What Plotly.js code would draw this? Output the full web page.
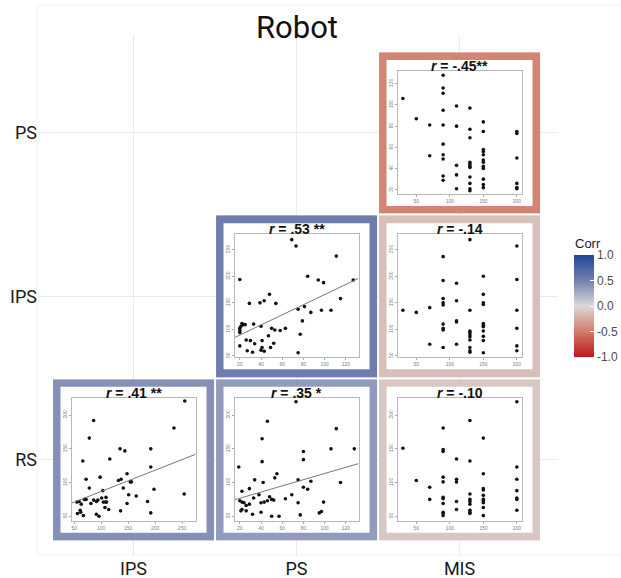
<!DOCTYPE html>
<html><head><meta charset="utf-8">
<script src="https://cdn.plot.ly/plotly-3.0.1.min.js"></script>
<style>html,body{margin:0;padding:0;background:#fff}</style>
</head><body><div id="chart" style="width:621px;height:578px"></div>
<script>
// ---- categories ----
const colVars = ['IPS', 'PS', 'MIS'];
const rowVars = ['RS', 'IPS', 'PS'];
// ---- correlations (rows RS, IPS, PS; columns IPS, PS, MIS) ----
const corrRS  = [0.41, 0.35, -0.10];
const corrIPS = [null, 0.53, -0.14];
const corrPS  = [null, null, -0.45];
// ---- correlation labels ----
const labPS_MIS  = '<b><i>r</i> = -.45**</b>';
const labIPS_PS  = '<b><i>r</i> = .53 **</b>';
const labIPS_MIS = '<b><i>r</i> = -.14</b>';
const labRS_IPS  = '<b><i>r</i> = .41 **</b>';
const labRS_PS   = '<b><i>r</i> = .35 *</b>';
const labRS_MIS  = '<b><i>r</i> = -.10</b>';
// ---- colorbar ticks ----
const cbTicks = [-1, -0.5, 0, 0.5, 1];
const cbTickText = ['-1.0', '-0.5', '0.0', '0.5', '1.0'];
// ---- scatter tick values ----
const misTicks = [50, 100, 150, 200];
const psTicks = [20, 40, 60, 80, 100, 120];
const ipsTicks = [50, 100, 150, 200, 250];
const rsTicks = [50, 100, 150, 200];
// ---- scatter data ----
// PS (y) vs MIS (x)
const misA = [30,50,70,70,90,90,90,90,90,90,90,90,90,90,110,110,110,110,110,130,130,130,130,130,130,130,130,130,130,130,150,150,150,150,150,150,150,150,150,150,150,150,200,200,200,200,200,200];
const psA  = [106,87,81,52,128,116,111,95,81,63,53,49,33,29,99,80,43,34,21,97,77,69,46,44,42,41,32,26,21,19,84,75,58,56,53,48,46,42,40,30,25,22,75,73,50,26,22,21];
// IPS (y) vs MIS (x)
const misB = [30,50,70,70,90,90,90,90,90,90,90,90,90,110,110,110,110,110,130,130,130,130,130,130,130,130,130,130,150,150,150,150,150,150,150,150,150,150,150,200,200,200,200,200,200];
const ipsB = [136,132,141,72,237,192,158,150,146,110,102,99,66,187,154,116,114,72,269,136,97,94,90,86,80,66,60,57,200,166,150,147,111,108,105,97,87,79,56,257,194,136,102,69,60];
// RS (y) vs MIS (x)
const misC = [30,50,70,70,90,90,90,90,90,90,90,90,90,90,90,110,110,110,110,110,130,130,130,130,130,130,130,130,130,150,150,150,150,150,150,150,150,150,150,200,200,200,200,200,200,200];
const rsC  = [151,103,93,75,181,149,146,108,101,78,76,69,56,54,51,135,105,101,72,60,192,132,83,75,72,68,59,56,54,166,113,91,89,81,75,73,70,63,51,220,123,105,88,77,75,59];
// IPS (y) vs PS (x)
const psD  = [69,73,111,20,84,94,99,127,48,29,39,43,54,115,75,81,87,97,106,79,22,23,25,21,20,20,20,33,40,50,53,58,63,77,47,41,26,30,34,52,49,41,20,40,43,27,32,75];
const ipsD = [269,257,238,194,200,193,188,193,166,149,150,154,149,158,138,143,132,136,136,116,111,109,109,106,102,98,94,110,106,102,99,98,102,91,88,79,80,79,73,74,66,66,69,61,59,60,57,56];
// RS (y) vs PS (x)
const psE  = [73,46,111,41,106,128,80,41,80,19,55,53,34,75,42,87,115,80,84,29,22,38,69,33,48,50,46,52,63,20,22,24,26,29,40,43,75,99,22,21,26,32,40,50,57,77,95,97];
const rsE  = [220,191,180,165,150,150,146,131,134,123,113,107,104,104,100,102,100,93,90,91,87,82,82,77,79,75,73,74,76,73,71,70,66,68,70,71,70,71,60,58,58,53,56,50,50,52,55,57];
// RS (y) vs IPS (x)
const ipsF = [255,235,86,78,135,144,192,66,116,192,148,72,98,137,132,154,156,78,141,198,103,151,165,254,55,59,69,72,86,94,101,109,91,104,108,110,63,81,107,114,148,186,61,62,56,67,91,96,136,192];
const rsF  = [221,181,192,166,150,147,150,132,135,123,113,105,108,105,103,101,101,92,92,90,88,82,80,83,71,72,75,75,74,74,77,78,72,71,71,71,68,69,63,60,69,72,59,56,54,51,53,50,58,55];

// ---- geometry ----
const W = 621, H = 578, L = 38, R = 63, T = 35, B = 22;
const pw = W - L - R, ph = H - T - B;
const xR = [-0.586, 2.604], yR = [-0.59, 2.6];
const cxOf = c => L + (colVars.indexOf(c) - xR[0]) / (xR[1] - xR[0]) * pw;
const cyOf = r => T + (yR[1] - rowVars.indexOf(r)) / (yR[1] - yR[0]) * ph;
const fx = p => (p - L) / pw;
const fy = p => (H - B - p) / ph;

const MISR = [22, 207], PSXR = [15, 132], IPSXR = [45, 275];
const PSYR = [16, 132], IPSYR = [47.5, 279], RSYR = [43.5, 226];

const panels = [
  {row:'PS',  col:'MIS', x:misA, y:psA,  lab:labPS_MIS,  fit:false, xr:MISR,  yr:PSYR,  xt:misTicks, yt:psTicks},
  {row:'IPS', col:'PS',  x:psD,  y:ipsD, lab:labIPS_PS,  fit:true,  xr:PSXR,  yr:IPSYR, xt:psTicks,  yt:ipsTicks},
  {row:'IPS', col:'MIS', x:misB, y:ipsB, lab:labIPS_MIS, fit:false, xr:MISR,  yr:IPSYR, xt:misTicks, yt:ipsTicks},
  {row:'RS',  col:'IPS', x:ipsF, y:rsF,  lab:labRS_IPS,  fit:true,  xr:IPSXR, yr:RSYR,  xt:ipsTicks, yt:rsTicks},
  {row:'RS',  col:'PS',  x:psE,  y:rsE,  lab:labRS_PS,   fit:true,  xr:PSXR,  yr:RSYR,  xt:psTicks,  yt:rsTicks},
  {row:'RS',  col:'MIS', x:misC, y:rsC,  lab:labRS_MIS,  fit:false, xr:MISR,  yr:RSYR,  xt:misTicks, yt:rsTicks}
];

function ols(xs, ys) {
  const n = xs.length;
  const mx = xs.reduce((a,b)=>a+b,0)/n, my = ys.reduce((a,b)=>a+b,0)/n;
  let sxy = 0, sxx = 0;
  for (let i = 0; i < n; i++) { sxy += (xs[i]-mx)*(ys[i]-my); sxx += (xs[i]-mx)*(xs[i]-mx); }
  const b = sxy / sxx; return [my - b*mx, b];
}

const colorscale = [
  [0, 'rgb(185,24,28)'],
  [0.25, 'rgb(214,124,104)'],
  [0.275, 'rgb(212,132,114)'],
  [0.5, 'rgb(218,218,218)'],
  [0.75, 'rgb(115,128,175)'],
  [1, 'rgb(30,70,150)']
];

const data = [
  {
    type:'heatmap', x: colVars, y: rowVars, z: [corrRS, corrIPS, corrPS],
    zmin:-1, zmax:1, colorscale: colorscale, xgap:2, ygap:2, hoverinfo:'skip',
    colorbar: {
      x: fx(574), xanchor:'left', y: fy(306), yanchor:'middle',
      len:102, lenmode:'pixels', thickness:20, thicknessmode:'pixels',
      xpad:0, ypad:0, outlinewidth:0,
      tickvals: cbTicks, ticktext: cbTickText,
      ticks:'inside', ticklen:4, tickcolor:'white', tickwidth:1,
      tickfont:{family:'Liberation Sans, Arial, sans-serif', size:12, color:'#4d4d4d'}
    }
  },
  {
    type:'scatter', mode:'markers', x: panels.map(p=>p.col), y: panels.map(p=>p.row),
    marker:{symbol:'square', size:146, color:'white', line:{width:0}},
    cliponaxis:false, hoverinfo:'skip', showlegend:false
  }
];

const layout = {
  width: W, height: H,
  margin: {l:L, r:R, t:T, b:B, pad:0, autoexpand:false},
  paper_bgcolor:'white', plot_bgcolor:'rgba(0,0,0,0)',
  showlegend:false, hovermode:false,
  title: {text:'Robot', x:fx(297), xref:'paper', xanchor:'center', y:1-27/H, yref:'container', yanchor:'middle',
          font:{family:'Roboto, sans-serif', size:31, color:'#111'}},
  xaxis: {type:'category', categoryorder:'array', categoryarray:colVars, range:xR,
          showgrid:true, gridcolor:'#ebebeb', gridwidth:1, zeroline:false, showline:false, ticks:'',
          tickfont:{family:'Roboto, sans-serif', size:18, color:'#1a1a1a'}, fixedrange:true},
  yaxis: {type:'category', categoryorder:'array', categoryarray:rowVars, range:yR,
          showgrid:true, gridcolor:'#ebebeb', gridwidth:1, zeroline:false, showline:false, ticks:'',
          tickfont:{family:'Roboto, sans-serif', size:18, color:'#1a1a1a'}, fixedrange:true},
  shapes: [
    {type:'rect', xref:'paper', yref:'paper', x0:fx(37), x1:fx(640), y0:fy(555), y1:fy(5),
     line:{color:'#f2f2f2', width:1}, layer:'below'}
  ],
  annotations: [
    {text:'Corr', xref:'paper', yref:'paper', x:fx(573), y:fy(243), xanchor:'left', yanchor:'middle',
     showarrow:false, font:{family:'Liberation Sans, Arial, sans-serif', size:13, color:'#1a1a1a'}}
  ]
};

panels.forEach((p, k) => {
  const id = k + 2;
  const cx = cxOf(p.col), cy = cyOf(p.row);
  layout['xaxis' + id] = {
    domain:[fx(cx - 62), fx(cx + 62)], anchor:'y' + id, range:p.xr,
    showgrid:false, zeroline:false, showline:true, mirror:true, linecolor:'#b8b8b8', linewidth:1,
    ticks:'outside', ticklen:2, tickcolor:'#aaa', tickvals:p.xt,
    tickfont:{family:'Liberation Sans, Arial, sans-serif', size:5, color:'#808080'}, fixedrange:true
  };
  layout['yaxis' + id] = {
    domain:[fy(cy + 61), fy(cy - 62)], anchor:'x' + id, range:p.yr,
    showgrid:false, zeroline:false, showline:true, mirror:true, linecolor:'#b8b8b8', linewidth:1,
    ticks:'outside', ticklen:2, tickcolor:'#aaa', tickvals:p.yt, tickangle:-90,
    tickfont:{family:'Liberation Sans, Arial, sans-serif', size:5, color:'#808080'}, fixedrange:true
  };
  data.push({
    type:'scatter', mode:'markers', x:p.x, y:p.y, xaxis:'x' + id, yaxis:'y' + id,
    marker:{size:3.6, color:'#111'}, hoverinfo:'skip', showlegend:false
  });
  if (p.fit) {
    const [a, b] = ols(p.x, p.y);
    data.push({
      type:'scatter', mode:'lines', x:[p.xr[0], p.xr[1]], y:[a + b*p.xr[0], a + b*p.xr[1]],
      xaxis:'x' + id, yaxis:'y' + id, line:{color:'#777', width:1}, hoverinfo:'skip', showlegend:false
    });
  }
  layout.annotations.push({
    text:p.lab, xref:'paper', yref:'paper', x:fx(cx), y:fy(cy - 67), xanchor:'center', yanchor:'middle',
    showarrow:false, font:{family:'Liberation Sans, Arial, sans-serif', size:14, color:'#111'}
  });
});

Plotly.newPlot('chart', data, layout, {staticPlot:true, displayModeBar:false});
</script>
</body></html>
